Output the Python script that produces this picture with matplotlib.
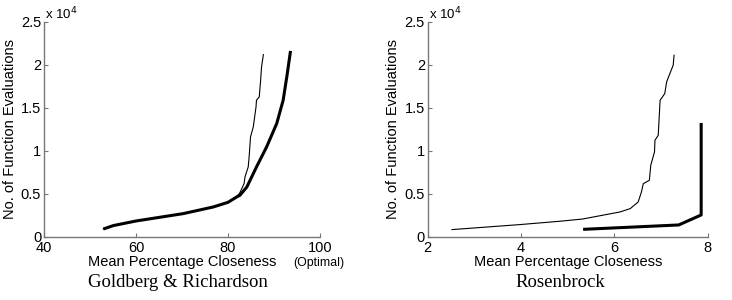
import numpy as np
import matplotlib
matplotlib.use("Agg")
import matplotlib.pyplot as plt
from matplotlib.ticker import FuncFormatter

# Goldberg & Richardson (x: mean percentage closeness, y: function evaluations)
gr_thick_x = [52.9, 55.1, 60.0, 70.3, 76.8, 80.0, 81.9, 82.6, 84.1, 86.2, 88.4,
              90.6, 92.0, 92.9, 93.6]
gr_thick_y = [930, 1330, 1860, 2720, 3490, 4030, 4650, 4850, 5810, 8140, 10470,
              13190, 15900, 19000, 21630]
gr_thin_x = [52.9, 55.1, 60.0, 70.3, 76.8, 80.0, 81.7, 82.5, 83.5, 83.7, 84.4,
             84.6, 84.9, 85.5, 86.1, 86.2, 86.8, 87.1, 87.3, 87.7]
gr_thin_y = [930, 1330, 1860, 2720, 3490, 4030, 4650, 5050, 6200, 6980, 8140,
             9300, 11630, 12790, 15120, 15900, 16280, 18220, 19770, 21200]

# Rosenbrock
rb_thin_x = [2.52, 3.97, 4.83, 5.32, 6.12, 6.34, 6.51, 6.58, 6.62, 6.75, 6.78,
             6.86, 6.87, 6.94, 6.98, 7.08, 7.12, 7.19, 7.26, 7.28]
rb_thin_y = [860, 1440, 1830, 2090, 2910, 3300, 4070, 5230, 6200, 6590, 8340,
             9880, 11240, 11820, 15890, 16670, 18020, 19000, 19960, 21130]
rb_thick_x = [5.33, 7.38, 7.86, 7.86]
rb_thick_y = [890, 1400, 2560, 13260]

plt.rcParams['font.family'] = ['Liberation Sans', 'DejaVu Sans']
fig = plt.figure(figsize=(7.32, 3.0), dpi=100)

axc = '#777777'

def style(ax, xlim, xticks):
    ax.set_xlim(*xlim)
    ax.set_ylim(0, 25000)
    ax.set_xticks(xticks)
    ax.set_yticks([0, 5000, 10000, 15000, 20000, 25000])
    ax.yaxis.set_major_formatter(FuncFormatter(lambda v, p: '%g' % (v / 1e4)))
    for s in ('top', 'right'):
        ax.spines[s].set_visible(False)
    for s in ('left', 'bottom'):
        ax.spines[s].set_color(axc)
        ax.spines[s].set_linewidth(1.0)
    ax.tick_params(direction='in', length=3, color=axc, labelsize=10.5, pad=2)
    ax.tick_params(axis='x', pad=3)
    ax.set_ylabel('No. of Function Evaluations', fontsize=10.5, labelpad=3)
    ax.set_xlabel('Mean Percentage Closeness', fontsize=10.5, labelpad=0)
    ax.text(0.005, 1.035, r'x 10$^4$', transform=ax.transAxes, fontsize=9.5,
            ha='left', va='center')

ax1 = fig.add_axes([0.0601, 0.21, 0.377, 0.717])
ax1.plot(gr_thin_x, gr_thin_y, color='black', lw=0.8)
ax1.plot(gr_thick_x, gr_thick_y, color='black', lw=2.2, solid_capstyle='butt')
style(ax1, (40, 100), [40, 60, 80, 100])
ax1.text(0.995, -0.12, '(Optimal)', transform=ax1.transAxes, fontsize=8.8,
         ha='center', va='center')

ax2 = fig.add_axes([0.5843, 0.21, 0.3825, 0.717])
ax2.plot(rb_thin_x, rb_thin_y, color='black', lw=0.8)
ax2.plot(rb_thick_x, rb_thick_y, color='black', lw=2.2, solid_capstyle='butt')
style(ax2, (2, 8), [2, 4, 6, 8])

fig.text(0.243, 0.057, 'Goldberg & Richardson', family='Liberation Serif',
         fontsize=13.5, ha='center', va='center')
fig.text(0.766, 0.057, 'Rosenbrock', family='Liberation Serif',
         fontsize=13.5, ha='center', va='center')

fig.savefig('out.png', dpi=100)
